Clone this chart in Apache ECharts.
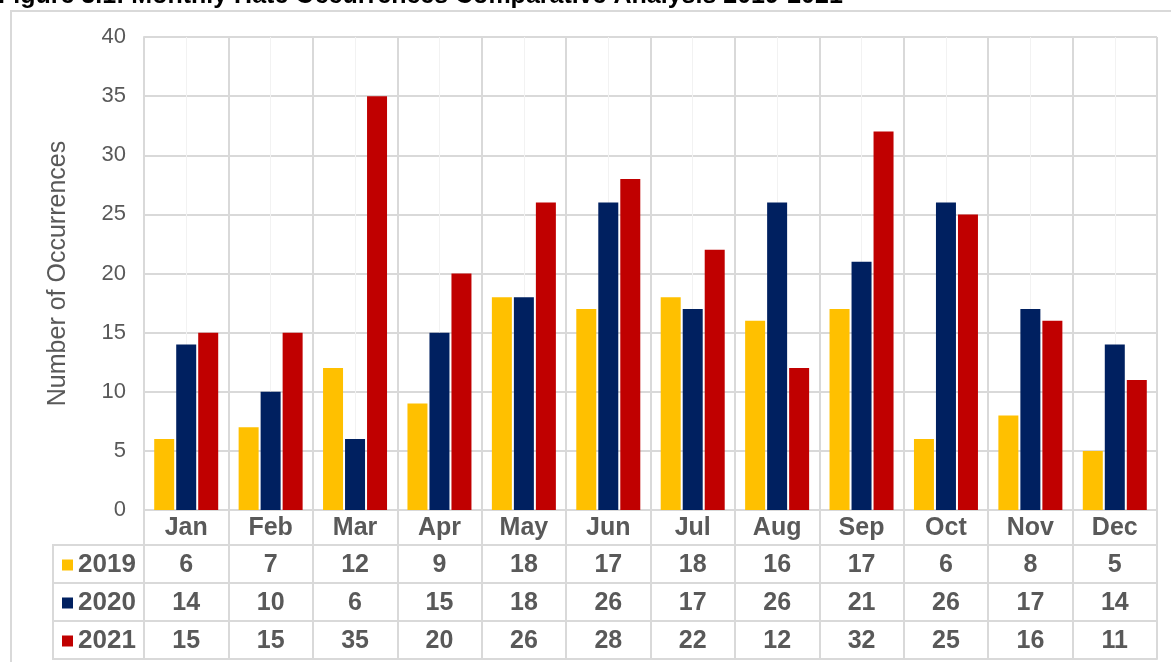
<!DOCTYPE html>
<html>
<head>
<meta charset="utf-8">
<script src="https://cdn.jsdelivr.net/npm/echarts@6/dist/echarts.min.js"></script>
<style>
  html, body { margin: 0; padding: 0; background: #fff; }
  #chart { width: 1171px; height: 662px; }
</style>
</head>
<body>
<div id="chart"></div>
<script>
// data
var months = ['Jan', 'Feb', 'Mar', 'Apr', 'May', 'Jun', 'Jul', 'Aug', 'Sep', 'Oct', 'Nov', 'Dec']
var seriesNames = ['2019', '2020', '2021']
var values2019 = [6, 7, 12, 9, 18, 17, 18, 16, 17, 6, 8, 5]
var values2020 = [14, 10, 6, 15, 18, 26, 17, 26, 21, 26, 17, 14]
var values2021 = [15, 15, 35, 20, 26, 28, 22, 12, 32, 25, 16, 11]
var colors = ['#FFC000', '#002060', '#C00000']

var font = 'Liberation Sans, Arial, sans-serif'
var grey = '#595959'
var lineGrey = '#d9d9d9'

var chart = echarts.init(document.getElementById('chart'))

// table rows under the chart are extra category x axes
var rowData = [values2019, values2020, values2021]
var rowH = 38
var headH = 35
var tableTop = 510
var tableAxes = rowData.map(function (vals, i) {
  return {
    type: 'category',
    position: 'bottom',
    offset: headH + rowH * i,
    data: vals.map(String),
    boundaryGap: true,
    axisLine: { show: true, lineStyle: { color: lineGrey, width: 2 } },
    axisTick: { show: true, length: rowH, lineStyle: { color: lineGrey, width: 2 } },
    axisLabel: { interval: 0, margin: 8, color: grey, fontSize: 25, fontWeight: 'bold', fontFamily: font },
    splitLine: { show: false }
  }
})
// bottom border of the table
tableAxes.push({
  type: 'category',
  position: 'bottom',
  offset: headH + rowH * 3,
  data: months,
  axisLine: { show: true, lineStyle: { color: lineGrey, width: 2 } },
  axisTick: { show: false },
  axisLabel: { show: false },
  splitLine: { show: false }
})

// one legend per table row, as the row header
var legends = seriesNames.map(function (name, i) {
  return {
    orient: 'vertical',
    left: 62,
    top: tableTop + headH + rowH * i + 6,
    itemWidth: 11,
    itemHeight: 11,
    icon: 'rect',
    padding: 0,
    data: [name],
    textStyle: { fontSize: 26, fontWeight: 'bold', color: grey, fontFamily: font, lineHeight: 28 }
  }
})

var option = {
  animation: false,
  textStyle: { fontFamily: font },
  title: {
    text: 'Figure 3.1: Monthly Hate Occurrences Comparative Analysis 2019-2021',
    left: -2,
    top: -16,
    padding: 0,
    textStyle: { fontSize: 25, fontWeight: 'bold', color: '#000', fontFamily: font }
  },
  legend: legends,
  grid: { left: 144, right: 14, top: 37, bottom: 152 },
  xAxis: [{
    type: 'category',
    data: months,
    boundaryGap: true,
    axisLine: { show: true, lineStyle: { color: lineGrey, width: 2 } },
    axisTick: { show: true, length: headH, lineStyle: { color: lineGrey, width: 2 } },
    axisLabel: { interval: 0, margin: 6, color: grey, fontSize: 25, fontWeight: 'bold', fontFamily: font },
    splitLine: { show: true, lineStyle: { color: lineGrey, width: 2 } },
    z: 2
  }, {
    // light lines through the middle of each month
    type: 'value',
    min: 0,
    max: 12,
    interval: 0.5,
    position: 'top',
    axisLine: { show: false },
    axisTick: { show: false },
    axisLabel: { show: false },
    splitLine: { show: true, lineStyle: { color: '#f2f2f2', width: 1 } },
    z: 1
  }].concat(tableAxes),
  yAxis: {
    type: 'value',
    min: 0,
    max: 40,
    interval: 5,
    name: 'Number of Occurrences',
    nameLocation: 'middle',
    nameGap: 73,
    nameTextStyle: { fontSize: 25, color: grey, fontFamily: font },
    axisLine: { show: true, lineStyle: { color: lineGrey, width: 2 } },
    axisTick: { show: false },
    axisLabel: { margin: 18, color: grey, fontSize: 22, fontFamily: font },
    splitLine: { show: true, lineStyle: { color: lineGrey, width: 2 } }
  },
  graphic: [{
    // outer frame
    type: 'polyline',
    shape: { points: [[11, 662], [11, 11], [1171, 11]] },
    style: { stroke: lineGrey, lineWidth: 2, fill: null },
    silent: true
  }, {
    // left column of the table
    type: 'polyline',
    shape: { points: [[144, 545], [53, 545], [53, 659], [144, 659]] },
    style: { stroke: lineGrey, lineWidth: 2, fill: null },
    silent: true
  }, {
    type: 'line',
    shape: { x1: 53, y1: 583, x2: 144, y2: 583 },
    style: { stroke: lineGrey, lineWidth: 2 },
    silent: true
  }, {
    type: 'line',
    shape: { x1: 53, y1: 621, x2: 144, y2: 621 },
    style: { stroke: lineGrey, lineWidth: 2 },
    silent: true
  }],
  series: [values2019, values2020, values2021].map(function (vals, i) {
    return {
      name: seriesNames[i],
      type: 'bar',
      xAxisIndex: 0,
      data: vals,
      barWidth: 20,
      barGap: '10%',
      itemStyle: { color: colors[i] },
      z: 3
    }
  })
}

chart.setOption(option)
window.addEventListener('resize', function () {
  chart.resize()
})
</script>
</body>
</html>
